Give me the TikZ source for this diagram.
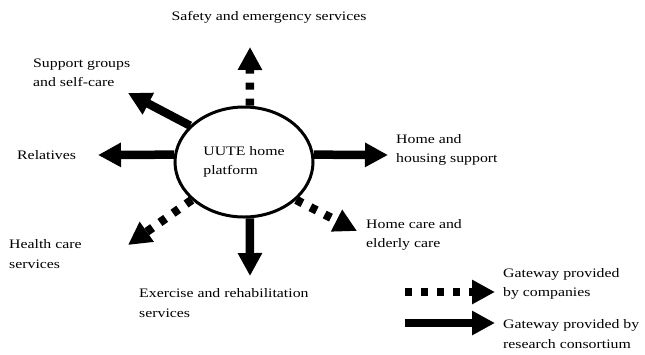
\documentclass[tikz,border=0pt]{standalone}
\usepackage{fontspec}
\setmainfont{Liberation Serif}[FakeStretch=1.22]
\usetikzlibrary{arrows.meta,shapes.geometric}
\begin{document}
\begin{tikzpicture}[x=1bp,y=-1bp,
  every node/.style={font=\fontsize{13}{19.5}\selectfont},
  lbl/.style={anchor=west,align=left,inner sep=0pt},
  hubshape/.style={ellipse,draw,line width=3bp,fill=white,minimum width=138bp,minimum height=110bp,inner sep=0pt,align=left},
  gateway/.style={line width=8.5bp,-{Triangle[width=23bp,length=23bp]}},
  gwsolid/.style={gateway},
  gwdotted/.style={gateway,dash pattern=on 7bp off 9bp}]
\useasboundingbox (0,0) rectangle (645,354);

% central platform
\node[hubshape] (hub) at (244,162) {UUTE home\\platform};

% service labels
\node[anchor=center,inner sep=0pt] (safety) at (269,17) {Safety and emergency services};
\node[lbl] (support) at (33,73) {Support groups\\and self-care};
\node[lbl] (relatives) at (17,155) {Relatives};
\node[lbl] (housing) at (396,150) {Home and\\housing support};
\node[lbl] (homecare) at (366,235) {Home care and\\elderly care};
\node[lbl] (health) at (9,254) {Health care\\services};
\node[lbl] (exercise) at (139,303) {Exercise and rehabilitation\\services};
\node[lbl] (legcomp) at (503,284) {Gateway provided\\by companies};
\node[lbl] (legres) at (503,334) {Gateway provided by\\research consortium};

% arrow tips
\coordinate (tSafety) at (250,47);
\coordinate (tSupport) at (128,93);
\coordinate (tRel) at (98,155);
\coordinate (tHousing) at (388,155);
\coordinate (tHomecare) at (357,231);
\coordinate (tHealth) at (128,245);
\coordinate (tExercise) at (250,276);

% gateways
\draw[gwdotted] (hub.84) -- (tSafety);
\draw[gwsolid] (hub.146) -- (tSupport);
\draw[gwsolid] (hub.174) -- (tRel);
\draw[gwsolid] (hub.6) -- (tHousing);
\draw[gwdotted] (hub.324) -- (tHomecare);
\draw[gwdotted] (hub.216) -- (tHealth);
\draw[gwsolid] (hub.276) -- (tExercise);

% legend
\coordinate (lc0) at (405,292);
\coordinate (lc1) at (495,292);
\coordinate (lr0) at (405,323);
\coordinate (lr1) at (495,323);
\draw[gwdotted] (lc0) -- (lc1);
\draw[gwsolid] (lr0) -- (lr1);
\end{tikzpicture}
\end{document}
